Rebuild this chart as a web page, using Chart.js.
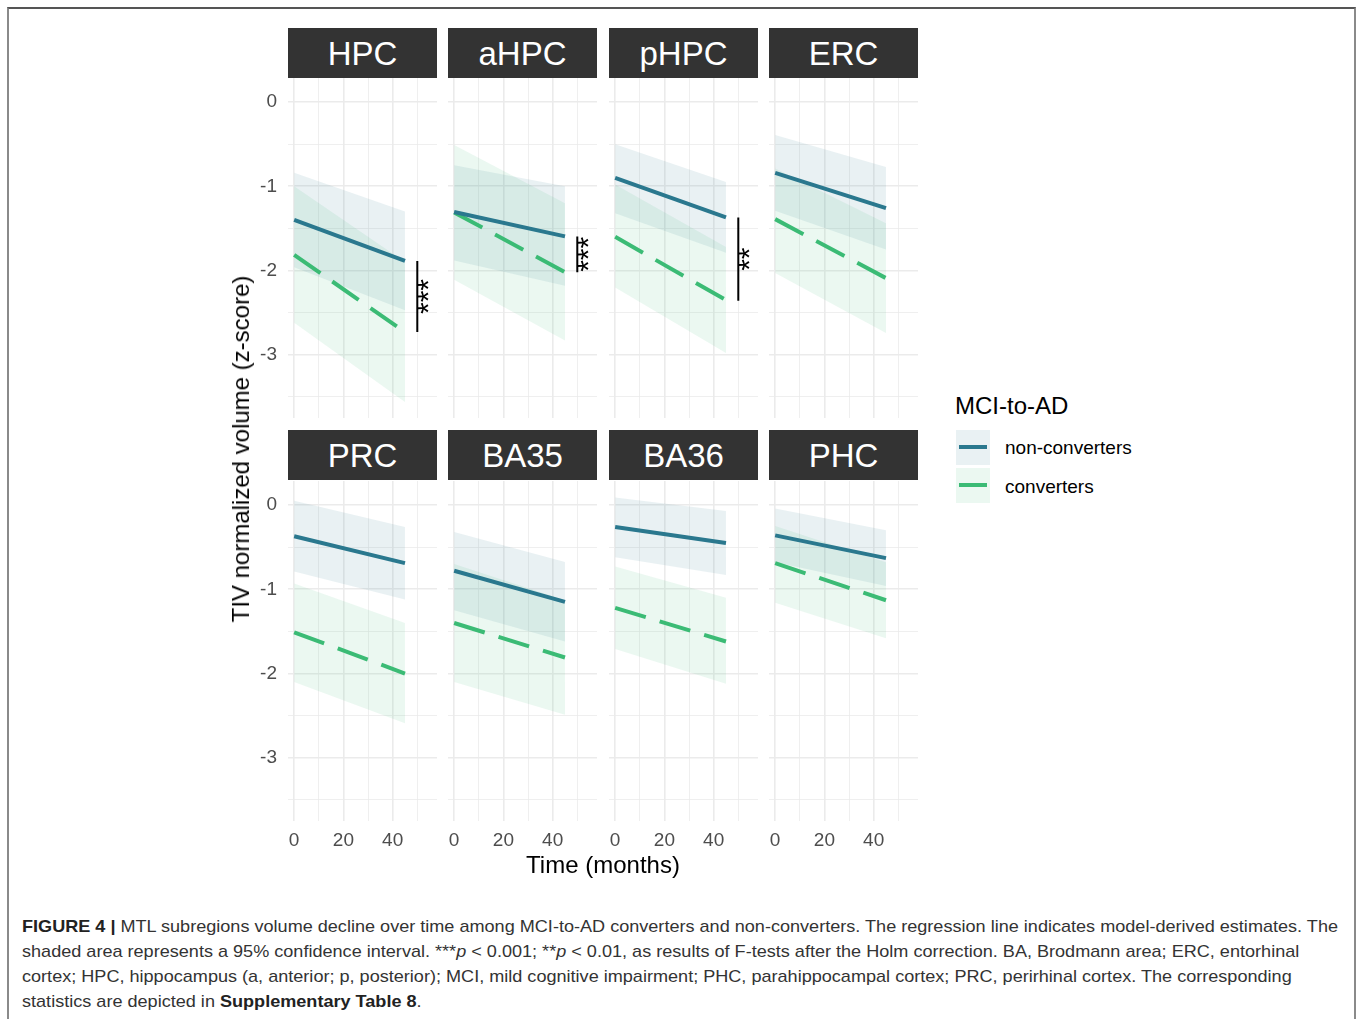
<!DOCTYPE html>
<html><head><meta charset="utf-8">
<script src="https://cdn.jsdelivr.net/npm/chart.js@4.4.1/dist/chart.umd.min.js"></script>
<style>
html,body{margin:0;padding:0;background:#fff;}
body{width:1358px;height:1019px;overflow:hidden;position:relative;font-family:"Liberation Sans",Arial,sans-serif;}
.frame{position:absolute;left:7px;top:7px;width:1349px;height:1100px;border:2px solid #8a8a8a;border-top-color:#555;box-sizing:border-box;}
.strip{position:absolute;background:#333333;color:#fff;font-size:33px;text-align:center;height:50px;line-height:51px;}
canvas{position:absolute;}
.ytitle{position:absolute;left:241px;top:449px;transform:translate(-50%,-50%) rotate(-90deg);font-size:24px;color:#000;white-space:nowrap;}
.xtitle{position:absolute;left:603px;top:865px;transform:translate(-50%,-50%);font-size:24px;color:#000;white-space:nowrap;}
.legtitle{position:absolute;left:955px;top:406px;transform:translateY(-50%);font-size:24px;color:#000;white-space:nowrap;}
.legbox{position:absolute;left:956px;width:34px;height:35px;}
.legline{position:absolute;left:3px;right:3px;top:15px;height:4px;}
.leglab{position:absolute;left:1005px;transform:translateY(-50%);font-size:19px;color:#000;white-space:nowrap;}
.cap{position:absolute;left:22px;font-size:17px;color:#333;white-space:nowrap;transform-origin:0 50%;}
.cap b{color:#222;}
</style>
</head><body>
<div class="frame"></div>
<div id="root"></div>
<div class="ytitle">TIV normalized volume (z-score)</div>
<div class="xtitle">Time (months)</div>
<div class="legtitle">MCI-to-AD</div>
<div class="legbox" style="top:430px;background:rgba(42,120,142,0.1)"><div class="legline" style="background:#2A788E"></div></div>
<div class="legbox" style="top:468px;background:rgba(59,187,117,0.1)"><div class="legline" style="background:#3BBB75"></div></div>
<div class="leglab" style="top:448px">non-converters</div>
<div class="leglab" style="top:487px">converters</div>
<div class="cap" style="top:917px"><b>FIGURE 4 |</b> MTL subregions volume decline over time among MCI-to-AD converters and non-converters. The regression line indicates model-derived estimates. The</div>
<div class="cap" style="top:942px">shaded area represents a 95% confidence interval. ***<i>p</i> &lt; 0.001; **<i>p</i> &lt; 0.01, as results of F-tests after the Holm correction. BA, Brodmann area; ERC, entorhinal</div>
<div class="cap" style="top:967px">cortex; HPC, hippocampus (a, anterior; p, posterior); MCI, mild cognitive impairment; PHC, parahippocampal cortex; PRC, perirhinal cortex. The corresponding</div>
<div class="cap" style="top:992px">statistics are depicted in <b>Supplementary Table 8</b>.</div>
<script>
// ---------------- DATA ----------------
const regions = ['HPC','aHPC','pHPC','ERC','PRC','BA35','BA36','PHC'];
const months = [0, 45];
// non-converters: model estimate and 95% CI (value at month 0, value at month 45)
const nonConvFit   = [[-1.40,-1.886],[-1.305,-1.595],[-0.90,-1.37],[-0.84,-1.26],[-0.37,-0.69],[-0.78,-1.15],[-0.26,-0.45],[-0.36,-0.63]];
const nonConvUpper = [[-0.84,-1.30],[-0.75,-1.00],[-0.50,-0.95],[-0.39,-0.77],[0.05,-0.26],[-0.32,-0.675],[0.09,-0.07],[-0.04,-0.30]];
const nonConvLower = [[-1.96,-2.47],[-1.88,-2.18],[-1.32,-1.79],[-1.29,-1.75],[-0.79,-1.12],[-1.25,-1.62],[-0.62,-0.83],[-0.68,-0.96]];
// converters
const convFit   = [[-1.815,-2.73],[-1.31,-2.02],[-1.60,-2.35],[-1.39,-2.09],[-1.51,-2.00],[-1.40,-1.81],[-1.22,-1.62],[-0.69,-1.13]];
const convUpper = [[-1.00,-1.90],[-0.51,-1.20],[-0.98,-1.72],[-0.79,-1.44],[-0.93,-1.40],[-0.70,-1.13],[-0.73,-1.10],[-0.25,-0.68]];
const convLower = [[-2.62,-3.56],[-2.11,-2.83],[-2.20,-2.98],[-2.03,-2.74],[-2.10,-2.59],[-2.10,-2.49],[-1.71,-2.12],[-1.16,-1.58]];
// significance brackets
const sigRegion = ['HPC','aHPC','pHPC'];
const sigMonth  = [50, 50, 50];
const sigTop    = [-1.886, -1.595, -1.37];
const sigBottom = [-2.73, -2.02, -2.36];
const sigLabel  = ['***','***','**'];
// axes
const yTickValues = [0, -0.5, -1, -1.5, -2, -2.5, -3, -3.5];
const xTickValues = [0, 10, 20, 30, 40, 50];
const yRange = [-3.75, 0.285];
const xRange = [-2.5, 58];

// ---------------- LAYOUT ----------------
const COL_LEFT = [288, 448, 609, 769];
const STRIP_TOP = [28, 430];
const PANEL_TOP = [78, 481];
const W = 149, H = 340, YW = 70, XH = 45;
const BLUE = '#2A788E', GREEN = '#3BBB75';
const BLUE_FILL = 'rgba(42,120,142,0.1)', GREEN_FILL = 'rgba(59,187,117,0.1)';
const FONT = "'Liberation Sans', Arial, sans-serif";
Chart.defaults.font.family = FONT;

const sigPlugin = {
  id: 'sigText',
  afterDatasetsDraw(chart) {
    const idx = sigRegion.indexOf(chart.options.regionName);
    if (idx < 0) return;
    const {x, y} = chart.scales;
    const px = x.getPixelForValue(sigMonth[idx]);
    const py = y.getPixelForValue((sigTop[idx] + sigBottom[idx]) / 2);
    const ctx = chart.ctx;
    ctx.save();
    ctx.translate(px + 12, py);
    ctx.rotate(-Math.PI / 2);
    ctx.fillStyle = '#000';
    ctx.font = "30px " + FONT;
    ctx.textAlign = 'center';
    ctx.textBaseline = 'middle';
    ctx.fillText(sigLabel[idx], 0, 0);
    ctx.restore();
  }
};

const noPad = s => { s.paddingTop = 0; s.paddingBottom = 0; s.paddingLeft = 0; s.paddingRight = 0; };

const root = document.getElementById('root');
regions.forEach((name, i) => {
  const r = Math.floor(i / 4), c = i % 4;
  const strip = document.createElement('div');
  strip.className = 'strip';
  strip.style.left = COL_LEFT[c] + 'px';
  strip.style.top = STRIP_TOP[r] + 'px';
  strip.style.width = W + 'px';
  strip.textContent = name;
  root.appendChild(strip);

  const yw = c === 0 ? YW : 0, xh = r === 1 ? XH : 0;
  const cv = document.createElement('canvas');
  cv.width = W + yw; cv.height = H + xh;
  cv.style.left = (COL_LEFT[c] - yw) + 'px';
  cv.style.top = PANEL_TOP[r] + 'px';
  cv.style.width = cv.width + 'px'; cv.style.height = cv.height + 'px';
  root.appendChild(cv);

  const pts = arr => months.map((m, k) => ({x: m, y: arr[k]}));
  const datasets = [
    {data: pts(nonConvUpper[i]), borderWidth: 0, backgroundColor: BLUE_FILL, fill: '+1', order: 5},
    {data: pts(nonConvLower[i]), borderWidth: 0, fill: false, order: 5},
    {data: pts(convUpper[i]), borderWidth: 0, backgroundColor: GREEN_FILL, fill: '+1', order: 5},
    {data: pts(convLower[i]), borderWidth: 0, fill: false, order: 5},
    {data: pts(convFit[i]), borderColor: GREEN, borderWidth: 4, borderDash: [32, 14.5], borderCapStyle: 'butt', fill: false, order: 2},
    {data: pts(nonConvFit[i]), borderColor: BLUE, borderWidth: 4, borderCapStyle: 'butt', fill: false, order: 1}
  ];
  const si = sigRegion.indexOf(name);
  if (si >= 0) {
    datasets.push({data: [{x: sigMonth[si], y: sigTop[si]}, {x: sigMonth[si], y: sigBottom[si]}],
      borderColor: '#000', borderWidth: 2, fill: false, order: 0});
  }
  const gridW = v => Number.isInteger(v) ? 1.6 : 0.8;
  new Chart(cv, {
    type: 'line',
    data: {datasets},
    options: {
      regionName: name,
      responsive: false, animation: false, devicePixelRatio: 1,
      layout: {padding: 0},
      elements: {point: {radius: 0}, line: {tension: 0}},
      plugins: {legend: {display: false}, tooltip: {enabled: false}, filler: {drawTime: 'beforeDatasetsDraw'}},
      scales: {
        x: {
          type: 'linear', min: xRange[0], max: xRange[1],
          afterBuildTicks: s => { s.ticks = xTickValues.map(v => ({value: v})); },
          afterFit: s => { s.height = xh; noPad(s); },
          border: {display: false},
          grid: {drawTicks: false, color: '#EBEBEB', lineWidth: ctx => ctx.tick ? (ctx.tick.value % 20 === 0 ? 1.6 : 0.8) : 1},
          ticks: {display: r === 1, autoSkip: false, maxRotation: 0, padding: 8, color: '#4D4D4D', font: {size: 19},
                  callback: v => v % 20 === 0 ? String(v) : ''}
        },
        y: {
          type: 'linear', min: yRange[0], max: yRange[1],
          afterBuildTicks: s => { s.ticks = yTickValues.map(v => ({value: v})); },
          afterFit: s => { s.width = yw; noPad(s); },
          border: {display: false},
          grid: {drawTicks: false, color: '#EBEBEB', lineWidth: ctx => ctx.tick ? gridW(ctx.tick.value) : 1},
          ticks: {display: c === 0, autoSkip: false, padding: 11, color: '#4D4D4D', font: {size: 19},
                  callback: v => Number.isInteger(v) ? String(v) : ''}
        }
      }
    },
    plugins: [sigPlugin]
  });
});

// fit caption lines to the reference width
const caps = document.querySelectorAll('.cap');
const k = 1316 / caps[0].getBoundingClientRect().width;
caps.forEach(el => { el.style.transform = 'scaleX(' + k + ')'; });
</script>
</body></html>
